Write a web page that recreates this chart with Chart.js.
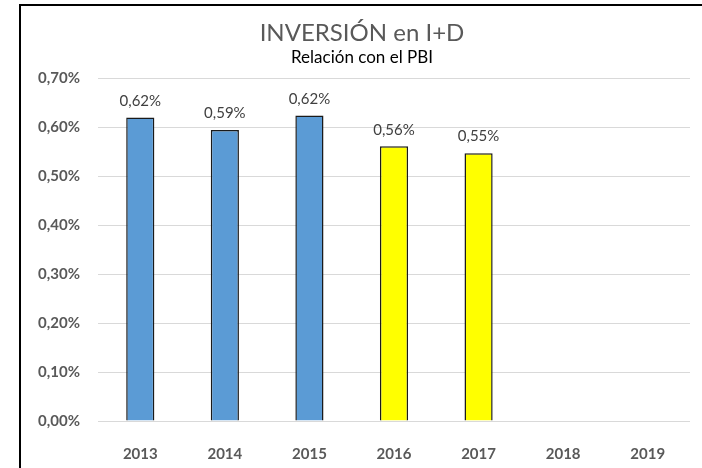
<!DOCTYPE html>
<html>
<head>
<meta charset="utf-8">
<script src="https://cdn.jsdelivr.net/npm/chart.js@4.4.0/dist/chart.umd.min.js"></script>
<style>
    body { margin: 0; background: #fff; }
    #wrap { position: relative; width: 702px; height: 468px; }
    #frame {
        position: absolute; left: 19px; top: 4px; right: 0; bottom: 0;
        border-left: 2px solid #000; border-top: 2px solid #000;
        pointer-events: none;
    }
</style>
</head>
<body>
<div id="wrap">
    <canvas id="myChart" width="702" height="468"></canvas>
    <div id="frame"></div>
</div>
<script>
// data
const years = ['2013', '2014', '2015', '2016', '2017', '2018', '2019'];
const inversion = [0.620, 0.594, 0.624, 0.561, 0.547, null, null];
const valueLabels = ['0,62%', '0,59%', '0,62%', '0,56%', '0,55%', '', ''];
const barColors = ['#5B9BD5', '#5B9BD5', '#5B9BD5', '#FFFF00', '#FFFF00', '#FFFF00', '#FFFF00'];

// labels above bars
const barLabels = {
    id: 'barLabels',
    afterDatasetsDraw(chart) {
        const ctx = chart.ctx;
        const meta = chart.getDatasetMeta(0);
        ctx.save();
        ctx.font = '15px Lato';
        ctx.fillStyle = '#404040';
        ctx.textAlign = 'center';
        ctx.textBaseline = 'bottom';
        meta.data.forEach((bar, i) => {
            if (inversion[i] == null) return;
            ctx.fillText(valueLabels[i], bar.x, bar.y - 9);
        });
        ctx.restore();
    }
};

const data = {
    labels: years,
    datasets: [{
        data: inversion,
        backgroundColor: barColors,
        borderColor: '#1a1a1a',
        borderWidth: 1.5,
        barPercentage: 0.333,
        categoryPercentage: 1
    }]
};

const config = {
    type: 'bar',
    data,
    options: {
        responsive: false,
        animation: false,
        layout: {
            padding: { left: 34, right: 12, top: 0, bottom: 0 }
        },
        plugins: {
            legend: { display: false },
            tooltip: { enabled: false },
            title: {
                display: true,
                text: 'INVERSIÓN en I+D',
                color: '#595959',
                font: { family: 'Lato', size: 24, weight: 'normal', lineHeight: 1.2 },
                padding: { top: 19, bottom: 0 }
            },
            subtitle: {
                display: true,
                text: 'Relación con el PBI',
                color: '#000',
                font: { family: 'Lato', size: 17, weight: 'normal', lineHeight: 1.2 },
                padding: { top: 0, bottom: 10 }
            }
        },
        scales: {
            x: {
                grid: { display: false },
                border: { display: false },
                ticks: {
                    color: '#595959',
                    font: { family: 'Lato', size: 15, weight: 'bold' },
                    padding: 16
                },
                afterFit: s => { s.height = 47; }
            },
            y: {
                min: 0,
                max: 0.7,
                grid: { color: '#D9D9D9', drawTicks: false },
                border: { display: false },
                ticks: {
                    stepSize: 0.1,
                    color: '#595959',
                    font: { family: 'Lato', size: 15, weight: 'bold' },
                    padding: 18,
                    callback: v => v.toFixed(2).replace('.', ',') + '%'
                },
                afterFit: s => { s.width = 64; }
            }
        }
    },
    plugins: [barLabels]
};

const myChart = new Chart(document.getElementById('myChart'), config);
</script>
</body>
</html>
